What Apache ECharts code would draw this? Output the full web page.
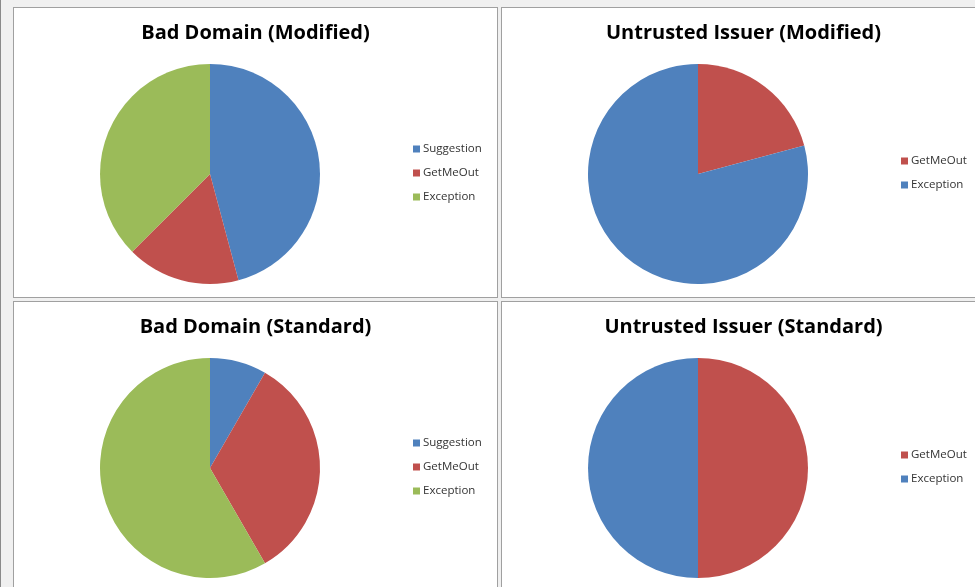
<!DOCTYPE html>
<html><head><meta charset="utf-8">
<script src="https://cdn.jsdelivr.net/npm/echarts@6/dist/echarts.min.js"></script>
<style>
html,body{margin:0;padding:0;width:975px;height:587px;overflow:hidden;background:#f0f0f0;}
#edge{position:absolute;left:0;top:0;width:1px;height:587px;background:#8a8a8a;}
.panel{position:absolute;width:485px;height:291px;background:#fff;border:1px solid #a0a0a0;box-sizing:border-box;}
</style></head>
<body>
<div id="edge"></div>
<div class="panel" id="c1" style="left:13px;top:7px;"></div>
<div class="panel" id="c2" style="left:501px;top:7px;"></div>
<div class="panel" id="c3" style="left:13px;top:301px;"></div>
<div class="panel" id="c4" style="left:501px;top:301px;"></div>
<script>
const titles = ['Bad Domain (Modified)', 'Untrusted Issuer (Modified)', 'Bad Domain (Standard)', 'Untrusted Issuer (Standard)'];
const badDomainCategories = ['Suggestion', 'GetMeOut', 'Exception'];
const untrustedCategories = ['GetMeOut', 'Exception'];
const badDomainModified = [11, 4, 9];
const untrustedModified = [5, 19];
const badDomainStandard = [2, 8, 14];
const untrustedStandard = [12, 12];
const colorMap = {Suggestion:'#4F81BD', GetMeOut:'#C0504D', Exception:'#9BBB59'};
const untrustedColorMap = {GetMeOut:'#C0504D', Exception:'#4F81BD'};

function build(id, title, cats, vals, cmap, legendTop) {
  const chart = echarts.init(document.getElementById(id), null, {renderer:'canvas'});
  chart.setOption({
    animation:false,
    textStyle:{fontFamily:'Open Sans'},
    title:{text:title, left:'center', top:10,
      textStyle:{fontFamily:'Open Sans', fontWeight:'bold', fontSize:20, color:'#000'}},
    legend:{orient:'vertical', left:394, top:legendTop, itemWidth:7, itemHeight:7, itemGap:10,
      icon:'rect', selectedMode:false,
      data:cats.map(c=>({name:c, itemStyle:{color:cmap[c]}})),
      textStyle:{fontFamily:'Open Sans', fontSize:11.5, color:'#333', lineHeight:14, padding:[0,0,0,-2]}},
    series:[{type:'pie', center:[196,166], radius:[0,110], startAngle:90, clockwise:true,
      label:{show:false}, labelLine:{show:false}, silent:true,
      itemStyle:{borderWidth:0},
      data:cats.map((c,i)=>({name:c, value:vals[i], itemStyle:{color:cmap[c]}}))}]
  });
}
build('c1', titles[0], badDomainCategories, badDomainModified, colorMap, 129);
build('c2', titles[1], untrustedCategories, untrustedModified, untrustedColorMap, 141);
build('c3', titles[2], badDomainCategories, badDomainStandard, colorMap, 129);
build('c4', titles[3], untrustedCategories, untrustedStandard, untrustedColorMap, 141);
</script>
</body></html>
